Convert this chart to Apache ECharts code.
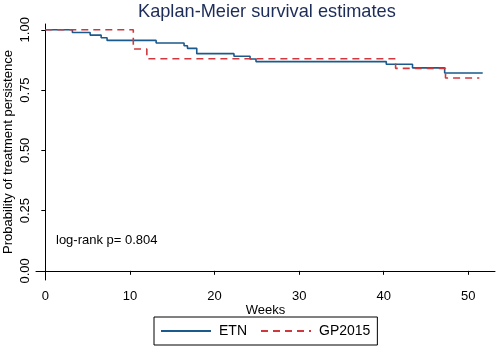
<!DOCTYPE html>
<html>
<head>
<meta charset="utf-8">
<script src="https://cdn.jsdelivr.net/npm/echarts@6/dist/echarts.min.js"></script>
<style>
  html, body { margin: 0; padding: 0; background: #fff; }
  #chart { width: 498px; height: 349px; }
</style>
</head>
<body>
<div id="chart"></div>
<script>
// Kaplan-Meier steps (week, survival)
const etnWeeks = [0, 3.2, 5.3, 6.6, 7.3, 13.1, 16.4, 16.8, 17.9, 22.3, 24.2, 24.9, 40.3, 43.4, 47.2, 51.7]
const etnSurv = [1, 0.989, 0.978, 0.967, 0.956, 0.945, 0.934, 0.923, 0.901, 0.890, 0.879, 0.868, 0.857, 0.842, 0.821, 0.821]

const gpWeeks = [0, 10.4, 12.0, 41.4, 47.3, 51.3]
const gpSurv = [1, 0.92, 0.88, 0.84, 0.80, 0.80]

const xTicks = [0, 10, 20, 30, 40, 50]
const yTicks = [0, 0.25, 0.5, 0.75, 1]

const font = 'Liberation Sans, Arial, sans-serif'

const chart = echarts.init(document.getElementById('chart'))

const option = {
  animation: false,
  backgroundColor: '#fff',
  title: {
    text: 'Kaplan-Meier survival estimates',
    left: 133,
    top: -2,
    textStyle: {
      fontFamily: font,
      fontSize: 18.2,
      fontWeight: 'normal',
      color: '#1c2c58'
    }
  },
  grid: {
    left: 36,
    right: 3,
    top: 24,
    bottom: 69,
    containLabel: false,
    outerBoundsMode: 'none'
  },
  xAxis: {
    type: 'value',
    min: -1.1,
    max: 53.15,
    name: 'Weeks',
    nameLocation: 'middle',
    nameGap: 24,
    nameMoveOverlap: false,
    nameTextStyle: { fontFamily: font, fontSize: 13, color: '#000' },
    splitLine: { show: false },
    axisLine: { lineStyle: { color: '#000', width: 1 } },
    axisTick: { customValues: xTicks, length: 4, lineStyle: { color: '#000' } },
    axisLabel: {
      customValues: xTicks,
      margin: 10,
      fontFamily: font,
      fontSize: 13,
      color: '#000'
    }
  },
  yAxis: {
    type: 'value',
    min: -0.038,
    max: 1.024,
    name: 'Probability of treatment persistence',
    nameLocation: 'middle',
    nameGap: 21,
    nameMoveOverlap: false,
    nameTextStyle: { fontFamily: font, fontSize: 13, color: '#000' },
    splitLine: { show: false },
    axisLine: { show: true, lineStyle: { color: '#000', width: 1 } },
    axisTick: { show: true, customValues: yTicks, length: 4, lineStyle: { color: '#000' } },
    axisLabel: {
      customValues: yTicks,
      rotate: 90,
      margin: 4,
      fontFamily: font,
      fontSize: 13,
      color: '#000',
      formatter: v => v.toFixed(2)
    }
  },
  legend: {
    left: 154,
    top: 317,
    orient: 'horizontal',
    itemWidth: 50,
    itemHeight: 12,
    itemGap: 13,
    padding: [7, 7, 7, 6],
    borderColor: '#000',
    borderWidth: 1,
    borderRadius: 0,
    itemStyle: { opacity: 0 },
    textStyle: { fontFamily: font, fontSize: 14, color: '#000', padding: [0, 0, 0, 3] },
    data: ['ETN', 'GP2015']
  },
  graphic: [
    {
      type: 'text',
      left: 56,
      top: 234,
      style: {
        text: 'log-rank p= 0.804',
        fontFamily: font,
        fontSize: 13,
        fill: '#000'
      }
    }
  ],
  series: [
    {
      name: 'ETN',
      type: 'line',
      step: 'end',
      symbol: 'none',
      data: etnWeeks.map((w, i) => [w, etnSurv[i]]),
      lineStyle: { color: '#1a5a8c', width: 1.6 },
      itemStyle: { color: '#1a5a8c' },
      z: 2
    },
    {
      name: 'GP2015',
      type: 'line',
      step: 'end',
      symbol: 'none',
      data: gpWeeks.map((w, i) => [w, gpSurv[i]]),
      lineStyle: { color: '#d0383e', width: 1.6, type: [7, 5] },
      itemStyle: { color: '#d0383e' },
      z: 3
    }
  ]
}

chart.setOption(option)
</script>
</body>
</html>
